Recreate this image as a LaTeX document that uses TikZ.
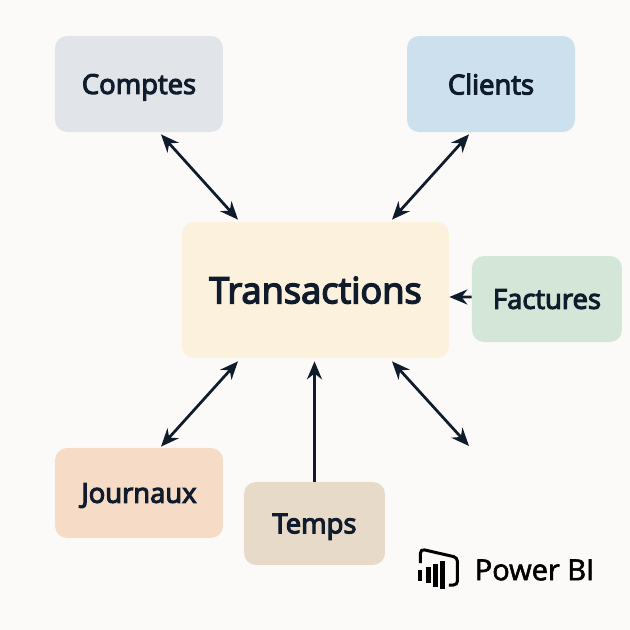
\documentclass[tikz,border=0pt]{standalone}
\usepackage{fontspec}
\setmainfont{Open Sans}
\newfontfamily\labelfont[FakeBold=4]{Open Sans}
\newfontfamily\brandfont[FakeBold=2]{Open Sans}
\definecolor{pagebg}{RGB}{252, 250, 248}
\definecolor{inkblue}{RGB}{16, 28, 44}
\definecolor{comptesgray}{RGB}{225, 229, 234}
\definecolor{clientsblue}{RGB}{204, 224, 238}
\definecolor{transyellow}{RGB}{251, 241, 221}
\definecolor{facturesgreen}{RGB}{211, 230, 215}
\definecolor{journauxorange}{RGB}{246, 220, 199}
\definecolor{tempstan}{RGB}{232, 218, 200}
\usetikzlibrary{arrows.meta, positioning}
\tikzset{
  tablebox/.style={rounded corners=0.24cm, inner sep=0pt, text=inkblue, text depth=0pt, font=\fontsize{15.6}{18}\labelfont},
  link/.style={{Stealth[length=0.36cm,width=0.3cm]}-{Stealth[length=0.36cm,width=0.3cm]}, line width=0.055cm, draw=inkblue},
  linkone/.style={-{Stealth[length=0.36cm,width=0.3cm]}, line width=0.055cm, draw=inkblue}
}

\begin{document}
\begin{tikzpicture}
  \fill[pagebg] (0, 0) rectangle (12.6, 12.6);
  \useasboundingbox (0, 0) rectangle (12.6, 12.6);

  % Tables
  \node[tablebox, fill=transyellow, minimum width=5.34cm, minimum height=2.72cm, font=\fontsize{20.6}{24}\labelfont] (trans) at (6.31, 6.8) {Transactions};
  \node[tablebox, fill=comptesgray, minimum width=3.36cm, minimum height=1.92cm] (comptes) at (2.78, 10.92) {Comptes};
  \node[tablebox, fill=clientsblue, minimum width=3.36cm, minimum height=1.92cm] (clients) at (9.82, 10.92) {Clients};
  \node[tablebox, fill=facturesgreen, minimum width=3cm, minimum height=1.72cm] (factures) at (10.94, 6.62) {Factures};
  \node[tablebox, fill=journauxorange, minimum width=3.36cm, minimum height=1.8cm] (journaux) at (2.78, 2.74) {Journaux};
  \node[tablebox, fill=tempstan, minimum width=2.82cm, minimum height=1.66cm] (temps) at (6.29, 2.13) {Temps};

  % Free end
  \coordinate (freeend) at (9.38, 3.68);

  % Links
  \draw[link] ([xshift=0.44cm, yshift=-0.04cm]comptes.south) -- ([xshift=-1.55cm, yshift=0.04cm]trans.north);
  \draw[link] ([xshift=-0.44cm, yshift=-0.04cm]clients.south) -- ([xshift=1.53cm, yshift=0.04cm]trans.north);
  \draw[linkone] ([yshift=0.04cm]factures.west) -- ([yshift=-0.14cm]trans.east);
  \draw[link] ([xshift=0.44cm, yshift=0.02cm]journaux.north) -- ([xshift=-1.55cm, yshift=-0.06cm]trans.south);
  \draw[linkone] (temps.north) -- ([yshift=-0.06cm]temps.north |- trans.south);
  \draw[link] ([xshift=1.53cm, yshift=-0.06cm]trans.south) -- (freeend);

  % Power BI mark
  \draw[line width=0.06cm, black, rounded corners=0.08cm] (8.41, 1.34) -- (8.41, 1.62) -- (9.15, 1.45) -- (9.15, 0.9) -- (8.98, 0.9);
  \fill[black] (8.37, 0.98) rectangle (8.45, 1.2);
  \fill[black] (8.52, 0.94) rectangle (8.62, 1.26);
  \fill[black] (8.67, 0.86) rectangle (8.76, 1.32);
  \fill[black] (8.81, 0.82) rectangle (8.91, 1.38);
  \node[font=\fontsize{16.5}{20}\brandfont, text=black, inner sep=0pt] (powerbi) at (10.69, 1.2) {Power BI};
\end{tikzpicture}
\end{document}
